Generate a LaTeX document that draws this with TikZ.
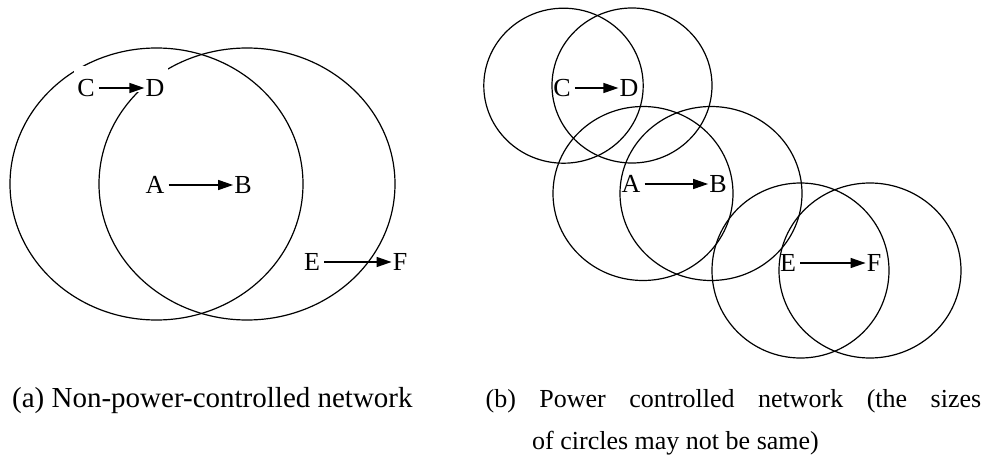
\documentclass[tikz,border=0pt]{standalone}
\usepackage{fontspec}
\setmainfont{Liberation Serif}
\usetikzlibrary{arrows.meta}

\begin{document}
\begin{tikzpicture}[x=1pt, y=-1pt, txrange/.style={draw=black, line width=1.2pt}, lbl/.style={inner sep=1pt, font=\rmfamily\fontsize{26}{30}\selectfont}, link/.style={-{Triangle[length=15pt, width=10pt]}, line width=1.3pt, shorten <=3pt}, captxt/.style={inner sep=0pt, anchor=base west}]
        \useasboundingbox (0,0) rectangle (989,455);

        % (a) both ranges of the same size
        \draw[txrange] (156.5,184) ellipse [x radius=146.5, y radius=136];
        \draw[txrange] (247,184) ellipse [x radius=148, y radius=136];
        % text box of C -> D hides part of the circles
        \fill[white] (74,66) rectangle (168,92);

        \node[lbl] (Ca) at (86,88) {C};
        \node[lbl] (Da) at (155,88) {D};
        \node[lbl] (Aa) at (155,185) {A};
        \node[lbl] (Ba) at (243,185) {B};
        \node[lbl] (Ea) at (312,262) {E};
        \node[lbl] (Fa) at (400,262) {F};

        \draw[link] (Ca) -- (Da);
        \draw[link] (Aa) -- (Ba);
        \draw[link] (Ea) -- (Fa);

        % (b) one range per node
        \foreach \cx/\cy/\rx/\ry in {563.5/85.7/79.7/77.5, 632/85.5/80/77.5, 643/193.5/90/87, 711/193.5/91/87, 800.5/270.5/88.5/87.5, 870/270.5/91/87.5}
        {
          \draw[txrange] (\cx,\cy) ellipse [x radius=\rx, y radius=\ry];
        }

        \node[lbl] (Cb) at (562,88) {C};
        \node[lbl] (Db) at (629,88) {D};
        \node[lbl] (Ab) at (631,184) {A};
        \node[lbl] (Bb) at (718,184) {B};
        \node[lbl] (Eb) at (788,263) {E};
        \node[lbl] (Fb) at (874,263) {F};

        \draw[link] (Cb) -- (Db);
        \draw[link] (Ab) -- (Bb);
        \draw[link] (Eb) -- (Fb);

        % captions
        \node[captxt, font=\rmfamily\fontsize{29}{34}\selectfont] (capa) at (12,407.5) {(a) Non-power-controlled network};
        \node[captxt, font=\rmfamily\fontsize{26}{30}\selectfont] (capb) at (485.5,407.5) {\makebox[495.5pt][s]{(b) Power controlled network (the sizes}};
        \node[captxt, font=\rmfamily\fontsize{26}{30}\selectfont] (capc) at (532,449.5) {of circles may not be same)};
      \end{tikzpicture}
\end{document}
